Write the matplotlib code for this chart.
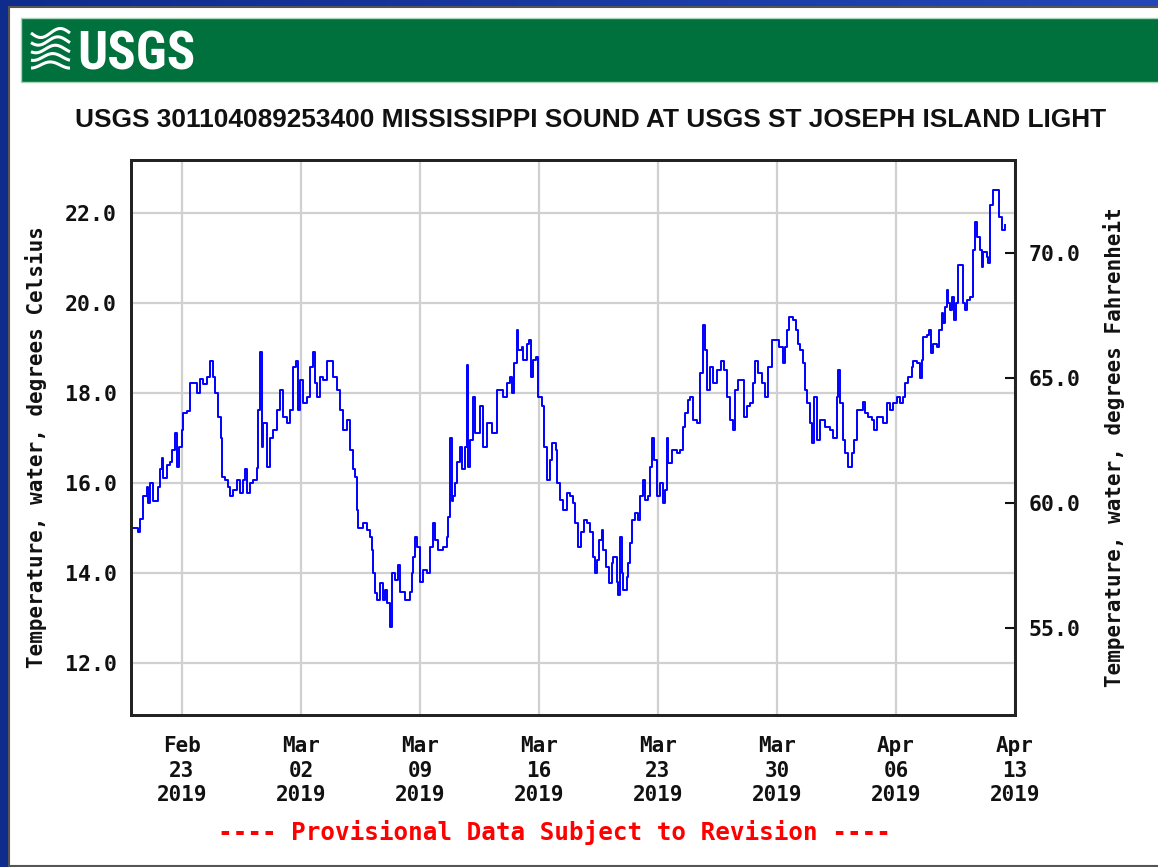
import datetime as dt
import numpy as np
import matplotlib
matplotlib.use("Agg")
import matplotlib.pyplot as plt
from matplotlib.patches import Rectangle
from matplotlib.colors import LinearSegmentedColormap
from matplotlib import font_manager

# ---------------- data ----------------
title = "USGS 301104089253400 MISSISSIPPI SOUND AT USGS ST JOSEPH ISLAND LIGHT"
ylabel_c = "Temperature, water, degrees Celsius"
ylabel_f = "Temperature, water, degrees Fahrenheit"
footer = "---- Provisional Data Subject to Revision ----"
logo_text = "USGS"

start_date = dt.datetime(2019, 2, 20)
end_date = dt.datetime(2019, 4, 13)

# days since 2019-02-20 00:00
days = [
    0.02, 0.43, 0.53, 0.69, 0.92, 1.02, 1.12, 1.31, 1.61, 1.71,
    1.81, 1.90, 2.10, 2.29, 2.39, 2.59, 2.69, 2.84, 2.98, 3.08,
    3.31, 3.47, 3.66, 3.86, 4.06, 4.25, 4.45, 4.65, 4.81, 4.94,
    5.14, 5.28, 5.34, 5.53, 5.72, 5.82, 6.02, 6.22, 6.41, 6.61,
    6.71, 6.81, 7.00, 7.19, 7.39, 7.49, 7.59, 7.69, 7.78, 7.98,
    8.18, 8.37, 8.57, 8.76, 8.96, 9.16, 9.35, 9.55, 9.71, 9.84,
    9.94, 10.14, 10.34, 10.53, 10.69, 10.82, 10.92, 11.12, 11.31, 11.51,
    11.81, 11.90, 12.10, 12.29, 12.49, 12.69, 12.88, 13.08, 13.18, 13.28,
    13.37, 13.66, 13.86, 14.06, 14.16, 14.25, 14.35, 14.45, 14.65, 14.84,
    14.94, 15.04, 15.24, 15.34, 15.53, 15.69, 15.82, 16.12, 16.31, 16.41,
    16.51, 16.61, 16.71, 16.81, 17.00, 17.19, 17.39, 17.59, 17.78, 17.88,
    18.08, 18.37, 18.57, 18.66, 18.76, 18.86, 18.96, 19.06, 19.16, 19.35,
    19.45, 19.65, 19.75, 19.84, 19.94, 20.14, 20.24, 20.53, 20.72, 20.92,
    21.22, 21.51, 21.90, 22.10, 22.29, 22.39, 22.53, 22.69, 22.78, 22.98,
    23.08, 23.28, 23.41, 23.51, 23.66, 23.82, 23.96, 24.16, 24.31, 24.45,
    24.65, 24.75, 25.00, 25.08, 25.24, 25.43, 25.63, 25.82, 26.02, 26.12,
    26.31, 26.45, 26.65, 26.84, 27.00, 27.16, 27.29, 27.39, 27.55, 27.69,
    27.78, 27.94, 28.14, 28.28, 28.37, 28.57, 28.66, 28.76, 28.86, 28.96,
    29.16, 29.25, 29.35, 29.45, 29.65, 29.84, 29.94, 30.10, 30.24, 30.43,
    30.53, 30.66, 30.76, 30.92, 31.12, 31.28, 31.41, 31.51, 31.61, 31.81,
    32.10, 32.29, 32.45, 32.59, 32.78, 32.88, 33.08, 33.28, 33.47, 33.63,
    33.76, 33.90, 34.06, 34.25, 34.45, 34.69, 34.88, 35.04, 35.24, 35.39,
    35.53, 35.72, 35.98, 36.08, 36.25, 36.41, 36.61, 36.71, 36.90, 37.10,
    37.29, 37.49, 37.69, 37.98, 38.14, 38.34, 38.47, 38.57, 38.72, 38.96,
    39.12, 39.25, 39.35, 39.51, 39.65, 39.78, 39.94, 40.04, 40.18, 40.34,
    40.53, 40.82, 41.12, 41.31, 41.51, 41.61, 41.71, 41.90, 42.00, 42.19,
    42.39, 42.53, 42.69, 42.88, 43.04, 43.18, 43.37, 43.57, 43.71, 43.86,
    44.16, 44.25, 44.45, 44.65, 44.84, 45.04, 45.24, 45.43, 45.53, 45.72,
    45.92, 46.02, 46.22, 46.41, 46.51, 46.61, 46.81, 46.94, 47.04, 47.19,
    47.39, 47.55, 47.69, 47.78, 47.88, 47.98, 48.08, 48.18, 48.28, 48.41,
    48.53, 48.66, 48.81, 48.92, 49.06, 49.19, 49.35, 49.51, 49.65, 49.78,
    49.94, 50.04, 50.14, 50.34, 50.43, 50.53, 50.69, 50.92, 51.08, 51.22,
    51.41,
]

temp_c = [
    15.0, 14.9, 15.2, 15.7, 15.9, 15.55, 16.0, 15.6, 15.9, 16.3,
    16.55, 16.1, 16.4, 16.47, 16.73, 17.1, 16.36, 16.8, 17.18, 17.55,
    17.6, 18.22, 18.22, 18.0, 18.3, 18.2, 18.36, 18.7, 18.36, 18.0,
    17.47, 17.0, 16.13, 16.07, 15.9, 15.7, 15.84, 16.07, 15.78, 16.07,
    16.3, 15.78, 16.0, 16.07, 16.33, 17.62, 18.9, 16.8, 17.33, 16.36,
    17.0, 17.18, 17.62, 18.07, 17.47, 17.33, 17.62, 18.58, 18.7, 17.62,
    18.29, 17.78, 17.9, 18.58, 18.9, 18.22, 17.9, 18.36, 18.29, 18.7,
    18.7, 18.36, 18.07, 17.62, 17.18, 17.4, 16.73, 16.3, 16.13, 15.4,
    15.0, 15.1, 14.96, 14.8, 14.5, 14.0, 13.55, 13.4, 13.78, 13.4,
    13.62, 13.33, 12.8, 14.0, 13.84, 14.18, 13.58, 13.4, 13.4, 13.58,
    14.0, 14.36, 14.8, 14.58, 13.8, 14.07, 14.0, 14.58, 15.1, 14.73,
    14.5, 14.58, 14.8, 15.24, 17.0, 15.6, 15.7, 16.0, 16.47, 16.8,
    16.3, 16.8, 18.62, 16.36, 16.96, 17.9, 17.1, 17.7, 16.8, 17.33,
    17.1, 18.07, 17.9, 18.22, 18.36, 18.0, 18.67, 19.4, 18.96, 19.02,
    18.73, 19.1, 19.18, 18.36, 18.73, 18.8, 17.9, 17.7, 16.8, 16.07,
    16.5, 16.89, 16.73, 16.0, 15.62, 15.4, 15.78, 15.7, 15.55, 15.1,
    14.58, 14.9, 15.18, 15.1, 14.9, 14.36, 14.0, 14.29, 14.73, 14.96,
    14.51, 14.13, 13.78, 14.22, 14.36, 13.8, 13.51, 14.8, 14.0, 13.62,
    13.91, 14.22, 14.67, 15.18, 15.33, 15.18, 15.7, 16.07, 15.62, 15.7,
    16.36, 17.0, 16.5, 15.7, 16.0, 15.55, 15.84, 17.0, 16.44, 16.73,
    16.67, 16.73, 17.24, 17.55, 17.84, 17.9, 17.4, 17.33, 18.44, 19.51,
    18.96, 18.07, 18.58, 18.22, 18.51, 18.7, 18.51, 17.9, 17.4, 17.18,
    18.07, 18.29, 18.29, 17.47, 17.7, 17.78, 18.22, 18.7, 18.44, 18.22,
    17.9, 18.58, 19.18, 19.18, 19.02, 18.67, 19.02, 19.4, 19.69, 19.62,
    19.4, 19.1, 18.96, 18.67, 18.07, 17.78, 17.33, 16.89, 17.9, 16.96,
    17.4, 17.24, 17.18, 17.0, 17.9, 18.51, 17.78, 16.96, 16.67, 16.36,
    16.67, 16.96, 17.62, 17.62, 17.8, 17.55, 17.47, 17.4, 17.18, 17.47,
    17.47, 17.33, 17.78, 17.62, 17.78, 17.9, 17.78, 17.9, 18.22, 18.36,
    18.58, 18.7, 18.67, 18.33, 18.73, 19.24, 19.29, 19.4, 18.89, 19.1,
    19.02, 19.4, 19.78, 19.56, 19.91, 20.29, 20.0, 19.84, 20.13, 19.62,
    20.0, 20.84, 20.84, 20.0, 19.84, 20.07, 20.13, 21.18, 21.8, 21.47,
    21.18, 20.8, 21.13, 21.02, 20.89, 22.18, 22.51, 22.51, 21.91, 21.62,
    21.73,
]

yticks_c = [12.0, 14.0, 16.0, 18.0, 20.0, 22.0]
yticks_f = [55.0, 60.0, 65.0, 70.0]
ylim_c = (10.84, 23.18)
xtick_dates = ["2019-02-23", "2019-03-02", "2019-03-09", "2019-03-16",
               "2019-03-23", "2019-03-30", "2019-04-06", "2019-04-13"]

# ---------------- styling ----------------
W, H = 1158, 867
MONO = "DejaVu Sans Mono"
available = {f.name for f in font_manager.fontManager.ttflist}
logo_font = "Liberation Sans"
for cand in ["Roboto Condensed", "Liberation Sans Narrow", "Open Sans Condensed"]:
    if cand in available:
        logo_font = cand
        break

times = [start_date + dt.timedelta(days=d) for d in days]
tick_times = [dt.datetime.strptime(s, "%Y-%m-%d") for s in xtick_dates]
tick_labels = [t.strftime("%b\n%d\n%Y") for t in tick_times]


def c_to_f(c):
    return c * 9.0 / 5.0 + 32.0


fig = plt.figure(figsize=(W / 100, H / 100), dpi=100)
fig.patch.set_facecolor("#1a3a9e")

# background / decoration layer in pixel coordinates (origin top-left)
bg = fig.add_axes([0, 0, 1, 1], zorder=0)
bg.set_xlim(0, W)
bg.set_ylim(H, 0)
bg.axis("off")
grad = np.linspace(0, 1, 256)[None, :]
bcmap = LinearSegmentedColormap.from_list("bl", ["#0e2c8c", "#2347b8"])
bg.imshow(grad, extent=(0, W, H, 0), aspect="auto", cmap=bcmap, zorder=0)
bg.add_patch(Rectangle((9, 7), W + 20, 859, facecolor="white",
                       edgecolor="#555555", lw=1.5, zorder=1))
bg.add_patch(Rectangle((21, 18), W + 20, 64, facecolor="#00703c",
                       edgecolor="#a8d5b8", lw=1.0, zorder=2))

# logo waves
xs = np.linspace(31, 70, 60)
for i in range(5):
    y0 = 33 + i * 8
    ys = y0 + 4.5 * np.sin((xs - 31) / 39 * 2 * np.pi + i * 0.4) * (1 - i * 0.08)
    bg.plot(xs, ys, color="white", lw=2.2, zorder=3, solid_capstyle="butt")
bg.text(77, 70, logo_text, color="white", fontsize=38, fontweight="bold",
        family=logo_font, ha="left", va="baseline", zorder=3)

bg.text(591, 127, title, ha="center", va="baseline", fontsize=18.9,
        fontweight="bold", family="Liberation Sans", color="#111111", zorder=3)
bg.text(554, 840, footer, ha="center", va="baseline", fontsize=17.5,
        fontweight="bold", family=MONO, color="#ff0000", zorder=3)

# ---------------- main plot ----------------
ax = fig.add_axes([131 / W, 1 - 715 / H, 884 / W, 555 / H], zorder=2)
ax.set_facecolor("white")
ax.step(times, temp_c, where="post", color="#0000ff", lw=1.4, zorder=3)
ax.set_xlim(start_date, end_date)
ax.set_ylim(*ylim_c)
ax.set_yticks(yticks_c)
ax.set_yticklabels([f"{v:.1f}" for v in yticks_c], family=MONO,
                   fontweight="bold", fontsize=15.5)
ax.set_xticks(tick_times)
ax.set_xticklabels(tick_labels, family=MONO, fontweight="bold", fontsize=15,
                   linespacing=1.3)
ax.grid(True, color="#d0d0d0", lw=1.6)
ax.set_axisbelow(True)
ax.tick_params(axis="both", length=0, colors="#111111")
ax.tick_params(axis="y", pad=10)
ax.tick_params(axis="x", pad=15)
for s in ax.spines.values():
    s.set_linewidth(2.0)
    s.set_color("#222222")
ax.set_ylabel(ylabel_c, family=MONO, fontweight="bold", fontsize=15,
              color="#111111")
ax.yaxis.set_label_coords(-0.095, 0.482)

ax2 = ax.twinx()
ax2.set_ylim(c_to_f(ylim_c[0]), c_to_f(ylim_c[1]))
ax2.set_yticks(yticks_f)
ax2.set_yticklabels([f"{v:.1f}" for v in yticks_f], family=MONO,
                    fontweight="bold", fontsize=15.5)
ax2.tick_params(axis="y", direction="in", length=7, width=1.5, pad=10,
                colors="#111111")
for s in ax2.spines.values():
    s.set_linewidth(2.0)
    s.set_color("#222222")
ax2.set_ylabel(ylabel_f, family=MONO, fontweight="bold", fontsize=15,
               color="#111111")
ax2.yaxis.set_label_coords(1.0995, 0.483)

fig.savefig("out.png", dpi=100, facecolor=fig.get_facecolor())
